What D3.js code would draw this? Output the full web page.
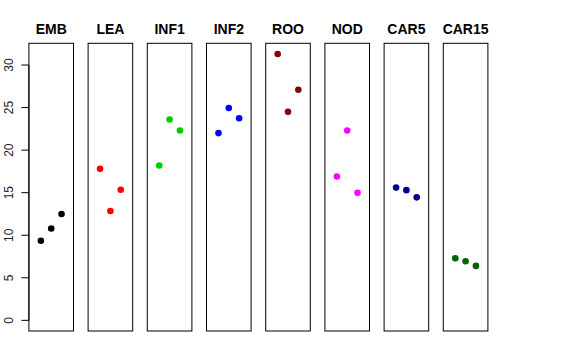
<!DOCTYPE html>
<html><head><meta charset="utf-8">
<script src="https://cdn.jsdelivr.net/npm/d3@7"></script>
<style>body{margin:0;background:#fff}svg{display:block}</style>
</head><body><svg id="c" width="576" height="360"></svg>
<script>
const categories = ["EMB","LEA","INF1","INF2","ROO","NOD","CAR5","CAR15"];
const colors = ["#000000","#FF0000","#00CD00","#0000FF","#8B0000","#FF00FF","#00008B","#006400"];
const values = [
  [9.35, 10.8, 12.5],
  [17.8, 12.85, 15.35],
  [18.2, 23.6, 22.3],
  [22.0, 24.95, 23.75],
  [31.3, 24.5, 27.1],
  [16.9, 22.3, 15.0],
  [15.6, 15.3, 14.45],
  [7.3, 6.95, 6.4]
];
const yTicks = [0,5,10,15,20,25,30];

(function(){
const svg = d3.select("#c");
const pTop = 43.3, pBottom = 331;
const y = d3.scaleLinear().domain([-1.252, 32.552]).range([pBottom, pTop]);
const panelLeft0 = 28.9, pitch = 59.2, panelW = 44.6;
const font = "'Liberation Sans', Arial, Helvetica, sans-serif";

categories.forEach((cat, i) => {
  const x0 = panelLeft0 + i * pitch;
  const x = d3.scaleLinear().domain([-0.16, 4.16]).range([x0, x0 + panelW]);
  const g = svg.append("g");
  g.append("rect").attr("x", x0).attr("y", pTop).attr("width", panelW).attr("height", pBottom - pTop)
    .attr("fill", "none").attr("stroke", "#000").attr("stroke-width", 1);
  g.append("text").attr("x", x0 + panelW / 2).attr("y", 34.3).attr("text-anchor", "middle")
    .attr("font-family", font).attr("font-weight", "bold").attr("font-size", 14).text(cat);
  g.selectAll("circle").data(values[i]).enter().append("circle")
    .attr("cx", (d, j) => x(j + 1)).attr("cy", d => y(d)).attr("r", 3.3)
    .attr("fill", colors[i]);
});

const axis = svg.append("g").attr("transform", `translate(${panelLeft0},0)`);
axis.append("line").attr("x1", 0).attr("x2", 0).attr("y1", y(0)).attr("y2", y(30)).attr("stroke", "#000");
yTicks.forEach(t => {
  axis.append("line").attr("x1", -7.5).attr("x2", 0).attr("y1", y(t)).attr("y2", y(t)).attr("stroke", "#000");
  axis.append("text").attr("transform", `translate(-15.5,${y(t)}) rotate(-90)`)
    .attr("text-anchor", "middle").attr("font-family", font).attr("font-size", 12).attr("fill", "#222").text(t);
});
})();
</script></body></html>
